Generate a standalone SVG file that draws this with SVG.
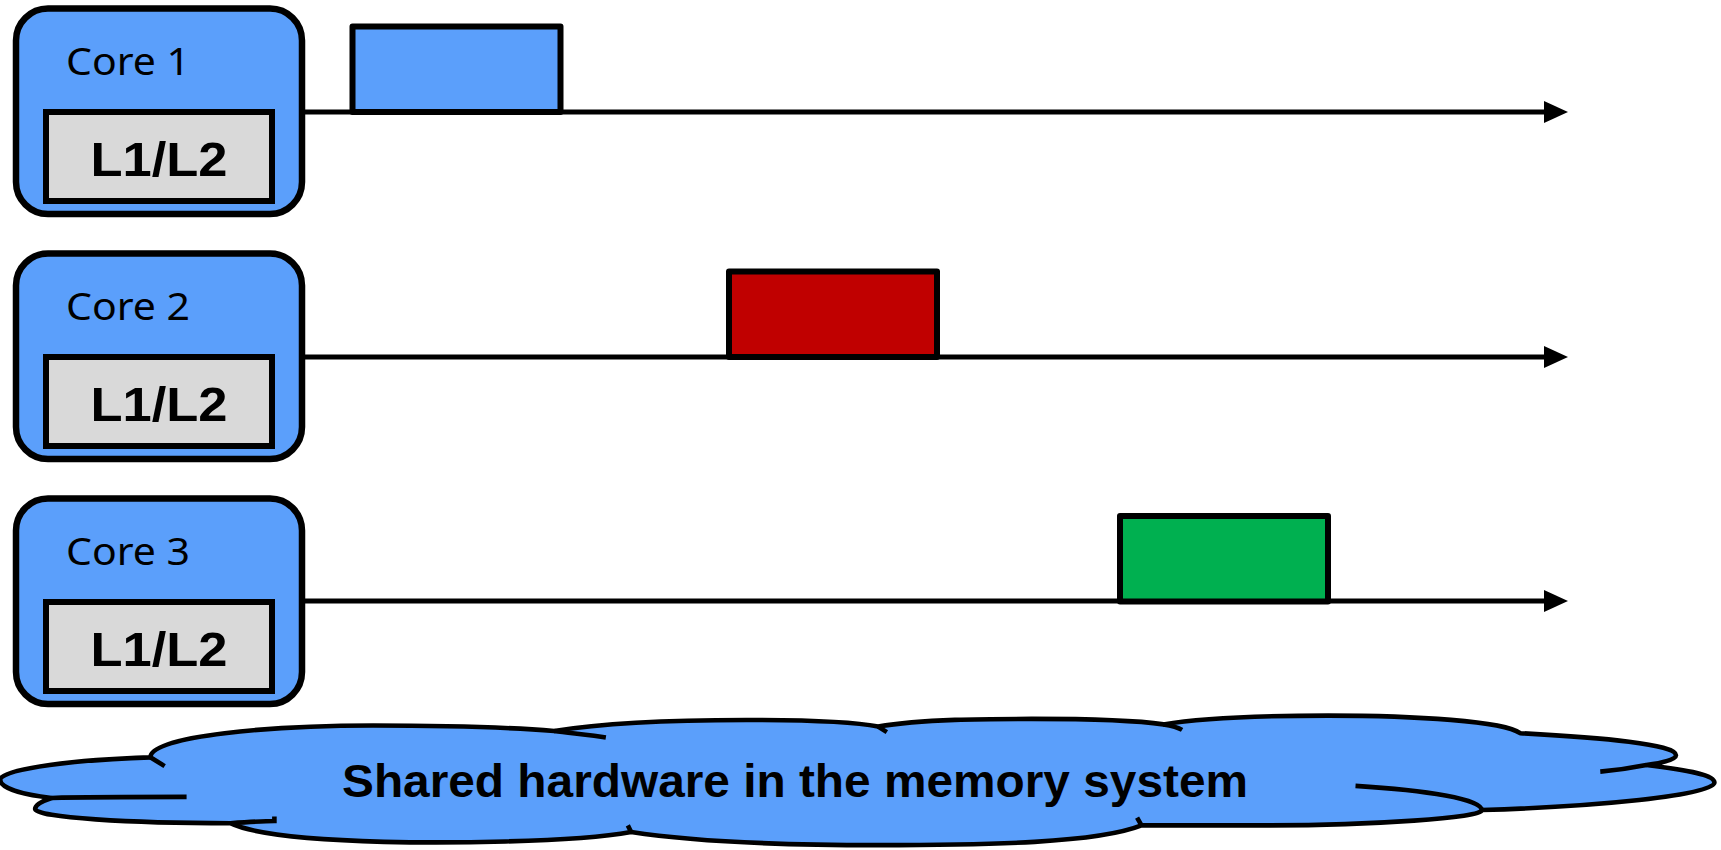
<svg xmlns="http://www.w3.org/2000/svg" width="1721" height="850" viewBox="0 0 1721 850">
<style>
.core{fill:#5B9FFB;stroke:#000;stroke-width:6.5}
.cache{fill:#D9D9D9;stroke:#000;stroke-width:6}
.clabel{font-family:"Noto Sans","Open Sans",sans-serif;font-size:39px;fill:#000}
.llabel{font-family:"Liberation Sans",Arial,sans-serif;font-size:48px;font-weight:bold;fill:#000;text-anchor:middle}
.bar{stroke:#000;stroke-width:6;stroke-linejoin:round}
.tl{stroke:#000;stroke-width:5;fill:none}
.head{fill:#000}
.cloud{fill:#5B9FFB;stroke:#000;stroke-width:4.2;stroke-linejoin:round}
.tick{fill:none;stroke:#000;stroke-width:4.2;stroke-linecap:butt}
</style>
<g id="connectors">
<line class="tl" x1="305" y1="112" x2="1548" y2="112"/>
<path class="head" d="M1544,101 L1568,112 L1544,123 Z"/>
<line class="tl" x1="305" y1="357" x2="1548" y2="357"/>
<path class="head" d="M1544,346 L1568,357 L1544,368 Z"/>
<line class="tl" x1="305" y1="601" x2="1548" y2="601"/>
<path class="head" d="M1544,590 L1568,601 L1544,612 Z"/>
</g>
<g id="core1">
<rect class="core" x="16" y="8.5" width="286" height="205.5" rx="32"/>
<text class="clabel" x="66" y="75" textLength="124" lengthAdjust="spacingAndGlyphs">Core 1</text>
<rect class="cache" x="46" y="112" width="226" height="89"/>
<text class="llabel" x="159" y="176" textLength="137" lengthAdjust="spacingAndGlyphs">L1/L2</text>
</g>
<g id="core2">
<rect class="core" x="16" y="253.5" width="286" height="205.5" rx="32"/>
<text class="clabel" x="66" y="320" textLength="124" lengthAdjust="spacingAndGlyphs">Core 2</text>
<rect class="cache" x="46" y="357" width="226" height="89"/>
<text class="llabel" x="159" y="421" textLength="137" lengthAdjust="spacingAndGlyphs">L1/L2</text>
</g>
<g id="core3">
<rect class="core" x="16" y="498.5" width="286" height="205.5" rx="32"/>
<text class="clabel" x="66" y="565" textLength="124" lengthAdjust="spacingAndGlyphs">Core 3</text>
<rect class="cache" x="46" y="602" width="226" height="89"/>
<text class="llabel" x="159" y="666" textLength="137" lengthAdjust="spacingAndGlyphs">L1/L2</text>
</g>
<g id="bar1"><rect class="bar" x="352.5" y="26.5" width="208" height="85.5" fill="#5B9FFB"/></g>
<g id="bar2"><rect class="bar" x="729" y="271.5" width="208" height="85.5" fill="#C00000"/></g>
<g id="bar3"><rect class="bar" x="1120" y="516" width="208" height="85.5" fill="#00B050"/></g>
<g id="cloud">
<g transform="scale(1.09758)">
<path class="cloud" d="M0,710 C5,700 70,692 137,690 C137,670 250,661 340,661 C420,661 480,664 505,666 C560,657 640,656 680,656 C730,656 780,658 800,662 C840,655 900,655 940,655 C990,655 1040,657 1060,660 C1100,653 1160,652 1210,652 C1290,652 1370,657 1385,668 C1460,672 1527,678 1527,688 C1527,692 1515,695 1500,697 C1540,702 1562,706 1562,713 C1562,725 1450,735 1350,738 C1352,745 1250,752 1150,752 C1100,752 1060,752 1040,752 C1000,768 900,770 800,770 C700,770 620,765 575,758 C520,768 400,768 350,767 C280,765 230,760 210,750 C120,750 32,745 32,737 C32,733 38,730 47,727 C20,724 0,718 0,710 Z"/>
<path class="tick" d="M137,690 L150,698 M505,666 C520,668 540,670 552,672 M800,662 L808,667 M1060,660 C1066,661 1072,662 1077,665 M1500,697 C1490,699 1470,702 1458,703 M1350,738 C1350,728 1300,720 1235,716 M1040,752 L1036,745 M575,758 L572,752 M210,750 C225,749 240,748 250,748 L250,744 M47,727 C80,726 130,726 170,726"/>
</g>
<text x="795" y="797" font-family="'Liberation Sans',Arial,sans-serif" font-size="46" font-weight="bold" text-anchor="middle" textLength="906" lengthAdjust="spacingAndGlyphs">Shared hardware in the memory system</text>
</g>
</svg>
